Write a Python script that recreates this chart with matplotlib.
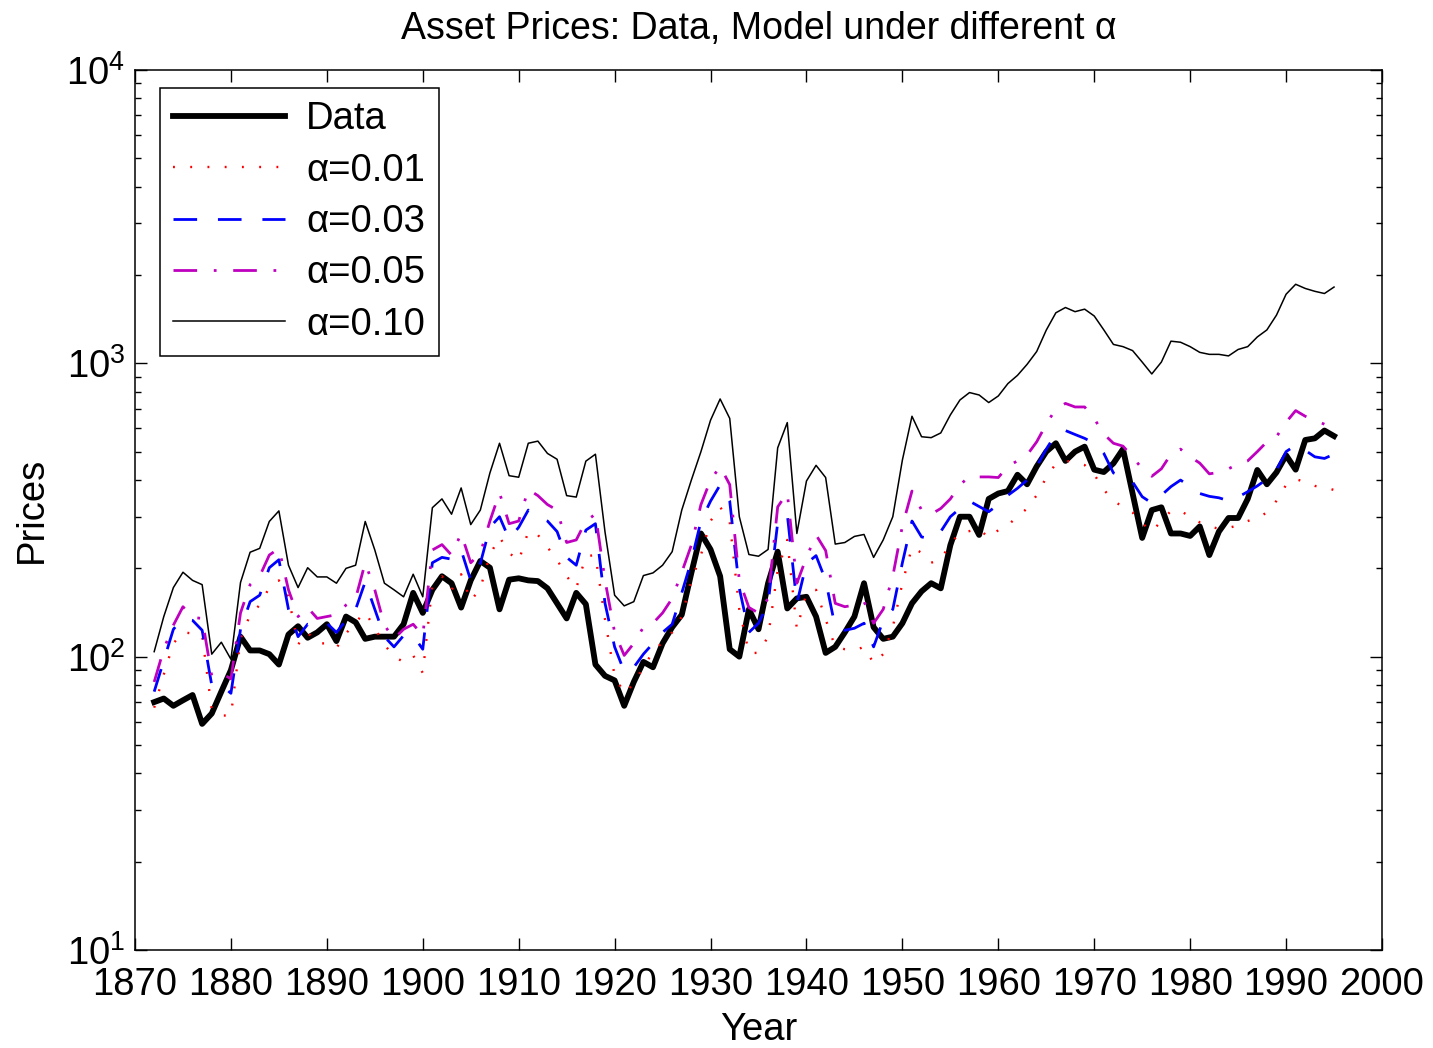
import matplotlib
matplotlib.use("Agg")
import matplotlib.pyplot as plt
from matplotlib.ticker import LogLocator, FixedLocator, NullFormatter

plt.rcParams['font.family'] = ['Liberation Sans', 'DejaVu Sans']
plt.rcParams['mathtext.default'] = 'regular'

# years 1872..1995
years = list(range(1872, 1996))

# real stock prices (thick black)
data = [70, 72, 68, 71, 74, 59, 64, 76,
        90, 117, 105, 105, 102, 94, 119, 127, 116, 121,
        129, 113, 137, 131, 115, 117, 117, 117, 129, 165,
        141, 169, 188, 178, 147, 182, 212, 201, 145, 183,
        185, 182, 181, 171, 152, 135, 165, 151, 94, 86,
        83, 68, 82, 96, 92, 111, 126, 139, 193, 263,
        232, 188, 106, 100, 145, 124, 178, 228, 146, 158,
        160, 137, 103, 108, 121, 137, 178, 126, 115, 117,
        130, 152, 167, 178, 171, 240, 300, 300, 260, 345,
        360, 367, 417, 387, 445, 500, 534, 465, 500, 520,
        434, 426, 456, 510, 360, 254, 316, 323, 263, 263,
        258, 278, 222, 267, 297, 297, 345, 433, 387, 425,
        486, 434, 548, 555, 590, 565]

# model, alpha = 0.01
a01 = [67, 87, 111, 121, 120, 118, 66, 63,
       63, 115, 139, 150, 172, 182, 160, 110, 121, 111,
       111, 107, 120, 131, 142, 125, 110, 100, 96, 101,
       88, 175, 188, 169, 191, 155, 171, 222, 256, 226,
       212, 267, 260, 236, 214, 188, 171, 220, 222, 134,
       86, 75, 81, 92, 104, 112, 121, 137, 182, 222,
       290, 324, 288, 145, 103, 103, 117, 197, 250, 124,
       165, 169, 134, 108, 106, 105, 108, 95, 102, 126,
       178, 236, 226, 209, 215, 242, 265, 268, 273, 254,
       270, 281, 300, 320, 355, 408, 455, 465, 460, 450,
       418, 371, 340, 324, 310, 285, 267, 290, 314, 314,
       300, 287, 278, 273, 275, 280, 290, 297, 310, 340,
       385, 403, 394, 382, 378, 370]

# model, alpha = 0.03
a03 = [76, 97, 124, 135, 133, 123, 80, 80,
       75, 124, 154, 162, 201, 214, 145, 117, 129, 127,
       130, 121, 133, 145, 180, 145, 117, 108, 118, 118,
       106, 209, 218, 215, 231, 182, 208, 276, 300, 252,
       276, 316, 300, 290, 267, 218, 205, 270, 284, 152,
       108, 89, 92, 102, 111, 121, 129, 165, 212, 290,
       339, 385, 339, 171, 121, 130, 152, 286, 306, 152,
       208, 221, 182, 126, 123, 125, 130, 108, 133, 145,
       209, 290, 256, 252, 267, 300, 320, 339, 325, 312,
       330, 355, 375, 400, 445, 510, 574, 590, 572, 555,
       534, 493, 423, 410, 394, 351, 334, 355, 380, 400,
       380, 360, 352, 348, 340, 350, 365, 382, 403, 433,
       500, 526, 505, 480, 474, 490]

# model, alpha = 0.05
a05 = [82, 106, 128, 148, 136, 135, 86, 88,
       84, 141, 176, 188, 222, 234, 169, 137, 147, 135,
       137, 139, 150, 158, 209, 169, 128, 115, 124, 129,
       118, 231, 241, 222, 263, 209, 225, 290, 362, 284,
       290, 372, 354, 330, 316, 245, 250, 290, 306, 182,
       121, 101, 111, 126, 130, 141, 158, 194, 240, 330,
       400, 445, 386, 182, 147, 141, 158, 324, 362, 178,
       218, 260, 230, 152, 148, 150, 154, 130, 145, 188,
       279, 367, 316, 306, 320, 345, 385, 412, 410, 410,
       408, 446, 465, 487, 540, 620, 700, 730, 710, 710,
       648, 574, 534, 522, 480, 437, 412, 437, 490, 510,
       480, 457, 420, 425, 437, 454, 465, 500, 540, 562,
       630, 690, 660, 640, 620, 637]

# model, alpha = 0.10
a10 = [104, 137, 172, 194, 182, 176, 102, 112,
       98, 179, 227, 234, 289, 314, 205, 172, 201, 187,
       187, 178, 200, 205, 289, 231, 178, 169, 160, 191,
       160, 322, 345, 306, 376, 282, 316, 423, 534, 414,
       409, 534, 543, 493, 471, 354, 350, 464, 490, 266,
       162, 149, 154, 189, 193, 205, 228, 316, 400, 500,
       640, 756, 649, 300, 223, 220, 232, 515, 628, 263,
       397, 449, 408, 242, 245, 257, 261, 218, 250, 300,
       468, 660, 562, 558, 579, 667, 750, 795, 780, 735,
       774, 853, 910, 992, 1097, 1298, 1487, 1550, 1500, 1530,
       1450, 1300, 1160, 1140, 1105, 1010, 920, 1010, 1190, 1180,
       1140, 1090, 1073, 1073, 1060, 1115, 1140, 1230, 1300, 1460,
       1720, 1860, 1800, 1760, 1730, 1820]

xticks = list(range(1870, 2001, 10))

fig = plt.figure(figsize=(14.33, 10.48), dpi=100)
ax = fig.add_axes([135 / 1433, 98 / 1048, 1247 / 1433, 880 / 1048])

ax.plot(years, data, color='k', lw=4.2, label='Data')
ax.plot(years, a01, color='r', lw=1.7, dashes=(0.8, 6.5), label='α=0.01')
ax.plot(years, a03, color='b', lw=2.0, dashes=(8.5, 7.5), label='α=0.03')
ax.plot(years, a05, color='#bf00bf', lw=2.0, dashes=(8.5, 6, 1, 6), label='α=0.05')
ax.plot(years, a10, color='k', lw=1.1, label='α=0.10')

ax.set_yscale('log')
ax.set_xlim(1870, 2000)
ax.set_ylim(10, 10000)
ax.xaxis.set_major_locator(FixedLocator(xticks))
ax.yaxis.set_major_locator(LogLocator(base=10, numticks=10))
ax.yaxis.set_minor_locator(LogLocator(base=10, subs=range(2, 10), numticks=20))
ax.yaxis.set_minor_formatter(NullFormatter())

ax.tick_params(which='both', direction='in', top=True, right=True,
               labelsize=27.5, width=1.0)
ax.tick_params(which='major', length=8.5)
ax.tick_params(which='minor', length=4.3)
ax.tick_params(axis='x', pad=12)
ax.tick_params(axis='y', pad=7)
for s in ax.spines.values():
    s.set_linewidth(1.1)

ax.set_title('Asset Prices: Data, Model under different α', fontsize=27, pad=22)
ax.set_xlabel('Year', fontsize=27.5, labelpad=7)
ax.set_ylabel('Prices', fontsize=27.5, labelpad=12)

leg = ax.legend(loc='upper left', bbox_to_anchor=(0.020, 0.9795), borderaxespad=0,
                fontsize=27.5, handlelength=2.93, handletextpad=0.55, labelspacing=0.4,
                borderpad=0.35, fancybox=False, framealpha=1, edgecolor='k')
leg.get_frame().set_linewidth(1.1)

fig.savefig('out.png', dpi=100)
